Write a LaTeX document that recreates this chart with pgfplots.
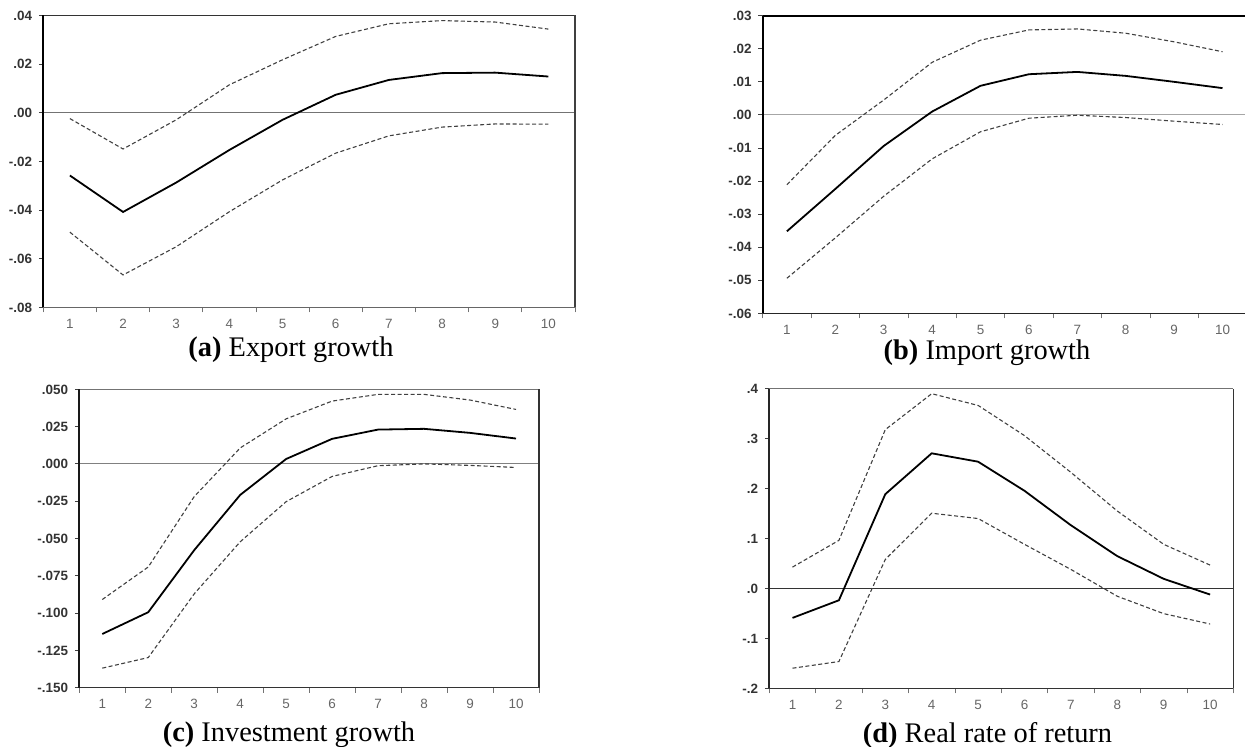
\documentclass[border=0pt]{standalone}
\usepackage{pgfplots}
\pgfplotsset{compat=1.18}
\usepackage{fontspec}
\setmainfont{Liberation Serif}
\newfontfamily\arialf{Liberation Sans}

\pgfplotstableread{
x  am      au      al      bm      bu      bl      cm      cu      cl      dm      du      dl
1  -0.0258 -0.0024 -0.0491 -0.0352 -0.0211 -0.0494 -0.1140 -0.0909 -0.1369 -0.0590 0.0427 -0.1598
2  -0.0408 -0.0149 -0.0667 -0.0224 -0.0062 -0.0372 -0.0994 -0.0691 -0.1298 -0.0237 0.0963 -0.1464
3  -0.0287 -0.0029 -0.0551 -0.0094 0.0045  -0.0246 -0.0578 -0.0219 -0.0871 0.1888  0.3180 0.0581
4  -0.0153 0.0115  -0.0407 0.0010  0.0159  -0.0133 -0.0208 0.0107  -0.0522 0.2706  0.3900 0.1506
5  -0.0029 0.0218  -0.0276 0.0088  0.0226  -0.0051 0.0033  0.0302  -0.0253 0.2538  0.3665 0.1400
6  0.0074  0.0314  -0.0166 0.0123  0.0257  -0.0010 0.0168  0.0421  -0.0084 0.1955  0.3060 0.0883
7  0.0135  0.0366  -0.0095 0.0130  0.0260  -0.0001 0.0230  0.0466  -0.0012 0.1265  0.2324 0.0380
8  0.0163  0.0379  -0.0059 0.0118  0.0247  -0.0008 0.0235  0.0466  0.0000  0.0647  0.1550 -0.0157
9  0.0165  0.0373  -0.0046 0.0100  0.0221  -0.0019 0.0208  0.0428  -0.0010 0.0192  0.0883 -0.0505
10 0.0149  0.0344  -0.0047 0.0081  0.0191  -0.0029 0.0170  0.0365  -0.0024 -0.0123 0.0467 -0.0713
}\irf

\pgfplotsset{
  irf/.style={
    scale only axis, anchor=south west,
    scaled y ticks=false, scaled x ticks=false,
    xmin=0.5, xmax=10.5,
    xtick={1,2,3,4,5,6,7,8,9,10},
    xticklabels={1,2,3,4,5,6,7,8,9,10},
    minor xtick={0.5,1.5,2.5,3.5,4.5,5.5,6.5,7.5,8.5,9.5,10.5},
    xtick pos=bottom, ytick pos=left,
    tick align=outside,
    major x tick style={draw=none},
    minor x tick style={draw=black!55, line width=0.8bp},
    major y tick style={draw=black!75, line width=0.9bp},
    major tick length=4.5bp, minor tick length=5bp,
    axis line style={draw=none},
    tick label style={font=\arialf\fontsize{13.5}{13.5}\selectfont, text height=9.5bp, text depth=0bp},
    xticklabel style={text=black!60, anchor=north, yshift=-3.5bp},
    yticklabel style={text=black!80, anchor=east, inner sep=2bp, xshift=-4.5bp, font=\arialf\bfseries\fontsize{13.5}{13.5}\selectfont},
    clip=false,
  },
  mid/.style={black, line width=1.8bp},
  band/.style={black!75, line width=1.1bp, dash pattern=on 4bp off 2.5bp},
  zero/.style={line width=1bp},
}

\begin{document}
\begin{tikzpicture}
\useasboundingbox (0,0) rectangle (1245bp,747bp);

% (a)
\begin{axis}[irf, at={(43.3bp,439.7bp)}, width=531.7bp, height=291.8bp,
  ymin=-0.08, ymax=0.04,
  ytick={-0.08,-0.06,-0.04,-0.02,0,0.02,0.04},
  yticklabels={-.08,-.06,-.04,-.02,.00,.02,.04}]
  \addplot[zero, black!55] coordinates {(0.5,0) (10.5,0)};
  \addplot[band] table[x=x,y=au] {\irf};
  \addplot[band] table[x=x,y=al] {\irf};
  \addplot[mid] table[x=x,y=am] {\irf};
  \draw[black!60, line width=1bp] (rel axis cs:0,0) -- (rel axis cs:1,0);
  \draw[black!80, line width=1.3bp] (rel axis cs:0,1) -- (rel axis cs:1,1);
  \draw[black!75, line width=1.6bp] (rel axis cs:1,0) -- (rel axis cs:1,1);
  \draw[black, line width=2.3bp] (rel axis cs:0,0) -- (rel axis cs:0,1);
\end{axis}

% (b)
\begin{axis}[irf, at={(762.7bp,433.7bp)}, width=482.3bp, height=297.6bp,
  xmax=10.465,
  minor xtick={0.5,1.5,2.5,3.5,4.5,5.5,6.5,7.5,8.5,9.5},
  ymin=-0.06, ymax=0.03,
  ytick={-0.06,-0.05,-0.04,-0.03,-0.02,-0.01,0,0.01,0.02,0.03},
  yticklabels={-.06,-.05,-.04,-.03,-.02,-.01,.00,.01,.02,.03}]
  \addplot[zero, black!35] coordinates {(0.5,0) (10.465,0)};
  \addplot[band] table[x=x,y=bu] {\irf};
  \addplot[band] table[x=x,y=bl] {\irf};
  \addplot[mid] table[x=x,y=bm] {\irf};
  \draw[black!85, line width=1.3bp] (rel axis cs:0,0) -- (rel axis cs:1,0);
  \draw[black, line width=1.8bp] (rel axis cs:0,1) -- (rel axis cs:1,1);
  \draw[black, line width=2.3bp] (rel axis cs:0,0) -- (rel axis cs:0,1);
\end{axis}

% (c)
\begin{axis}[irf, at={(79.3bp,59.3bp)}, width=459.7bp, height=298.4bp,
  ymin=-0.15, ymax=0.05,
  ytick={-0.15,-0.125,-0.1,-0.075,-0.05,-0.025,0,0.025,0.05},
  yticklabels={-.150,-.125,-.100,-.075,-.050,-.025,.000,.025,.050}]
  \addplot[zero, black!50] coordinates {(0.5,0) (10.5,0)};
  \addplot[band] table[x=x,y=cu] {\irf};
  \addplot[band] table[x=x,y=cl] {\irf};
  \addplot[mid] table[x=x,y=cm] {\irf};
  \draw[black!80, line width=1.3bp] (rel axis cs:0,0) -- (rel axis cs:1,0);
  \draw[black!55, line width=1.3bp] (rel axis cs:0,1) -- (rel axis cs:1,1);
  \draw[black!80, line width=1.6bp] (rel axis cs:1,0) -- (rel axis cs:1,1);
  \draw[black!90, line width=2.3bp] (rel axis cs:0,0) -- (rel axis cs:0,1);
\end{axis}

% (d)
\begin{axis}[irf, at={(769.3bp,58.7bp)}, width=464bp, height=299.6bp,
  ymin=-0.2, ymax=0.4,
  ytick={-0.2,-0.1,0,0.1,0.2,0.3,0.4},
  yticklabels={-.2,-.1,.0,.1,.2,.3,.4}]
  \addplot[zero, black!80, line width=1.3bp] coordinates {(0.5,0) (10.5,0)};
  \addplot[band] table[x=x,y=du] {\irf};
  \addplot[band] table[x=x,y=dl] {\irf};
  \addplot[mid] table[x=x,y=dm] {\irf};
  \draw[black!80, line width=1.3bp] (rel axis cs:0,0) -- (rel axis cs:1,0);
  \draw[black!55, line width=1.3bp] (rel axis cs:0,1) -- (rel axis cs:1,1);
  \draw[black!80, line width=1.6bp] (rel axis cs:1,0) -- (rel axis cs:1,1);
  \draw[black!85, line width=2.3bp] (rel axis cs:0,0) -- (rel axis cs:0,1);
\end{axis}

\node[anchor=base, font=\fontsize{28.5}{28.5}\selectfont] at (291bp,390bp) {\textbf{(a)} Export growth};
\node[anchor=base, font=\fontsize{28.5}{28.5}\selectfont] at (987bp,387bp) {\textbf{(b)} Import growth};
\node[anchor=base, font=\fontsize{28.5}{28.5}\selectfont] at (289bp,5.5bp) {\textbf{(c)} Investment growth};
\node[anchor=base, font=\fontsize{28.5}{28.5}\selectfont] at (987.5bp,4.5bp) {\textbf{(d)} Real rate of return};
\end{tikzpicture}
\end{document}
